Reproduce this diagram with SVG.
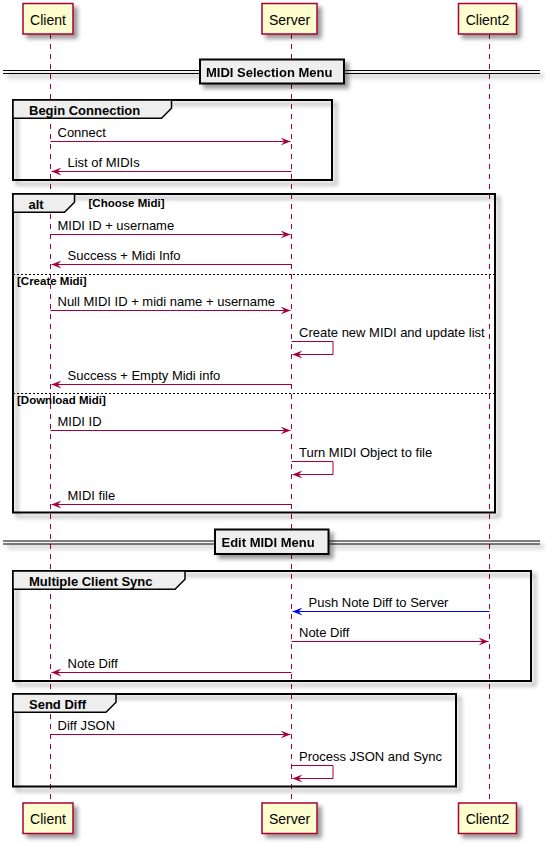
<svg xmlns="http://www.w3.org/2000/svg" width="551" height="844" viewBox="0 0 551 844">
<style>
.life{stroke:#A80036;stroke-width:1;stroke-dasharray:5,5;fill:none}
.pbox{fill:#FEFECE;stroke:#A80036;stroke-width:1.5}
.ptext{font-family:"Liberation Sans",Arial,sans-serif;font-size:14px;text-anchor:middle;fill:#000}
.msg{stroke:#A80036;stroke-width:1;fill:none;marker-end:url(#ah)}
.msgb{stroke:#0000FF;stroke-width:1;fill:none;marker-end:url(#ahb)}
.mtext{font-family:"Liberation Sans",Arial,sans-serif;font-size:13px;fill:#000}
.frame{fill:none;stroke:#000;stroke-width:2}
.tab{fill:#EEEEEE;stroke:#000;stroke-width:1.5}
.gtitle{font-family:"Liberation Sans",Arial,sans-serif;font-size:13px;font-weight:bold;fill:#000}
.cond{font-family:"Liberation Sans",Arial,sans-serif;font-size:11.5px;font-weight:bold;fill:#000}
.sepline{stroke:#000;stroke-width:1;fill:none}
.sepbox{fill:#EEEEEE;stroke:#000;stroke-width:2}
.dash{stroke:#000;stroke-width:1;stroke-dasharray:2,2;fill:none}
</style>
<defs>
<filter id="sh" filterUnits="userSpaceOnUse" x="0" y="0" width="551" height="844">
<feGaussianBlur in="SourceAlpha" result="b" stdDeviation="2"/>
<feColorMatrix in="b" result="c" type="matrix" values="0 0 0 0 0 0 0 0 0 0 0 0 0 0 0 0 0 0 .4 0"/>
<feOffset in="c" result="o" dx="4" dy="4"/>
<feBlend in="SourceGraphic" in2="o" mode="normal"/>
</filter>
<marker id="ah" viewBox="0 0 10 8" refX="10" refY="4" markerWidth="10" markerHeight="8" markerUnits="userSpaceOnUse" orient="auto"><path d="M0,0 L10,4 L0,8 L4,4 Z" fill="#A80036"/></marker>
<marker id="ahb" viewBox="0 0 10 8" refX="10" refY="4" markerWidth="10" markerHeight="8" markerUnits="userSpaceOnUse" orient="auto"><path d="M0,0 L10,4 L0,8 L4,4 Z" fill="#0000FF"/></marker>
</defs>
<rect width="551" height="844" fill="#FFFFFF"/>

<g id="lifelines">
<line class="life" x1="50.5" y1="34" x2="50.5" y2="803"/>
<line class="life" x1="291.5" y1="34" x2="291.5" y2="803"/>
<line class="life" x1="489.5" y1="34" x2="489.5" y2="803"/>
</g>

<g id="participant-client">
<rect class="pbox" x="23" y="3.5" width="50" height="30.5" filter="url(#sh)"/>
<text class="ptext" x="48" y="24.5">Client</text>
<rect class="pbox" x="23" y="803" width="50" height="30.5" filter="url(#sh)"/>
<text class="ptext" x="48" y="824">Client</text>
</g>
<g id="participant-server">
<rect class="pbox" x="262" y="3.5" width="55" height="30.5" filter="url(#sh)"/>
<text class="ptext" x="289.5" y="24.5">Server</text>
<rect class="pbox" x="262" y="803" width="55" height="30.5" filter="url(#sh)"/>
<text class="ptext" x="289.5" y="824">Server</text>
</g>
<g id="participant-client2">
<rect class="pbox" x="458.5" y="3.5" width="58" height="30.5" filter="url(#sh)"/>
<text class="ptext" x="487.5" y="24.5">Client2</text>
<rect class="pbox" x="458.5" y="803" width="58" height="30.5" filter="url(#sh)"/>
<text class="ptext" x="487.5" y="824">Client2</text>
</g>

<g id="sep-midi-selection" filter="url(#sh)">
<line class="sepline" x1="3" y1="70.5" x2="540" y2="70.5"/>
<line class="sepline" x1="3" y1="73.5" x2="540" y2="73.5"/>
<rect class="sepbox" x="200" y="59.5" width="144" height="24"/>
<text class="gtitle" x="206" y="76.5">MIDI Selection Menu</text>
</g>

<g id="group-begin-connection">
<rect class="frame" x="13" y="100" width="319" height="80" filter="url(#sh)"/>
<polygon class="tab" points="13,100 171.5,100 171.5,108.3 161.5,118.3 13,118.3"/>
<text class="gtitle" x="29" y="114.5">Begin Connection</text>
</g>

<g id="group-alt">
<rect class="frame" x="13" y="194" width="482" height="318.5" filter="url(#sh)"/>
<polygon class="tab" points="13,194 74.5,194 74.5,202.3 64.5,212.3 13,212.3"/>
<text class="gtitle" x="28.5" y="208.5">alt</text>
<text class="cond" x="88.5" y="206.5">[Choose Midi]</text>
<line class="dash" x1="13" y1="274.5" x2="495" y2="274.5"/>
<text class="cond" x="17" y="284.5">[Create Midi]</text>
<line class="dash" x1="13" y1="393.5" x2="495" y2="393.5"/>
<text class="cond" x="17" y="404">[Download Midi]</text>
</g>

<g id="sep-edit-midi" filter="url(#sh)">
<line class="sepline" x1="3" y1="541" x2="540" y2="541"/>
<line class="sepline" x1="3" y1="544" x2="540" y2="544"/>
<rect class="sepbox" x="215" y="529.5" width="113.5" height="24.5"/>
<text class="gtitle" x="221.5" y="547">Edit MIDI Menu</text>
</g>

<g id="group-multiple-client-sync">
<rect class="frame" x="13" y="571" width="518" height="110" filter="url(#sh)"/>
<polygon class="tab" points="13,571 185,571 185,579.3 175,589.3 13,589.3"/>
<text class="gtitle" x="29" y="585.5">Multiple Client Sync</text>
</g>

<g id="group-send-diff">
<rect class="frame" x="13" y="694" width="443" height="92.5" filter="url(#sh)"/>
<polygon class="tab" points="13,694 116,694 116,702.3 106,712.3 13,712.3"/>
<text class="gtitle" x="29" y="708.5">Send Diff</text>
</g>

<g id="connectors">
<line class="msg" x1="50.5" y1="141.5" x2="290.5" y2="141.5"/>
<text class="mtext" x="57.5" y="137">Connect</text>
<line class="msg" x1="291.5" y1="171.5" x2="51.5" y2="171.5"/>
<text class="mtext" x="67.5" y="167">List of MIDIs</text>

<line class="msg" x1="50.5" y1="234.5" x2="290.5" y2="234.5"/>
<text class="mtext" x="57.5" y="230">MIDI ID + username</text>
<line class="msg" x1="291.5" y1="264.5" x2="51.5" y2="264.5"/>
<text class="mtext" x="67.5" y="260">Success + Midi Info</text>

<line class="msg" x1="50.5" y1="310.5" x2="290.5" y2="310.5"/>
<text class="mtext" x="57.5" y="306">Null MIDI ID + midi name + username</text>
<path class="msg" d="M291.5,341.5 H333 V354.5 H292.5"/>
<text class="mtext" x="299" y="337">Create new MIDI and update list</text>
<line class="msg" x1="291.5" y1="384.5" x2="51.5" y2="384.5"/>
<text class="mtext" x="67.5" y="380">Success + Empty Midi info</text>

<line class="msg" x1="50.5" y1="430.5" x2="290.5" y2="430.5"/>
<text class="mtext" x="57.5" y="426">MIDI ID</text>
<path class="msg" d="M291.5,461.5 H333 V474.5 H292.5"/>
<text class="mtext" x="299" y="457">Turn MIDI Object to file</text>
<line class="msg" x1="291.5" y1="504.5" x2="51.5" y2="504.5"/>
<text class="mtext" x="67.5" y="500">MIDI file</text>

<line class="msgb" x1="489.5" y1="611.5" x2="292.5" y2="611.5"/>
<text class="mtext" x="308.5" y="607">Push Note Diff to Server</text>
<line class="msg" x1="291.5" y1="641.5" x2="488.5" y2="641.5"/>
<text class="mtext" x="299" y="637">Note Diff</text>
<line class="msg" x1="291.5" y1="672.5" x2="51.5" y2="672.5"/>
<text class="mtext" x="67.5" y="668">Note Diff</text>

<line class="msg" x1="50.5" y1="734.5" x2="290.5" y2="734.5"/>
<text class="mtext" x="57.5" y="730">Diff JSON</text>
<path class="msg" d="M291.5,765.5 H333 V778.5 H292.5"/>
<text class="mtext" x="299" y="761">Process JSON and Sync</text>
</g>
</svg>
